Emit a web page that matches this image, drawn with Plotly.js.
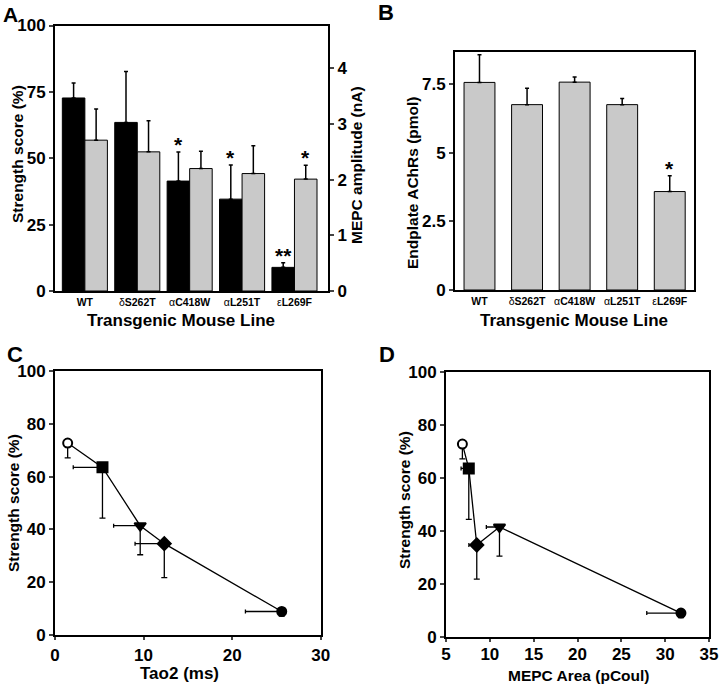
<!DOCTYPE html>
<html>
<head>
<meta charset="utf-8">
<script src="https://cdn.plot.ly/plotly-3.0.1.min.js"></script>
<style>html,body{margin:0;padding:0;background:#fff;}#chart{width:720px;height:686px;}</style>
</head>
<body>
<div id="chart"></div>
<script>
// ---------- data ----------
const lines = ['WT', 'δS262T', 'αC418W', 'αL251T', 'εL269F'];
const lineLabels = ['<b>WT</b>', 'δ<b>S262T</b>', 'α<b>C418W</b>', 'α<b>L251T</b>', 'ε<b>L269F</b>'];
const strength = [72.7, 63.5, 41.4, 34.6, 8.9];          // Strength score (%)
const strengthErr = [5.6, 19.2, 11.0, 12.9, 1.7];
const mepcAmp = [2.71, 2.50, 2.20, 2.11, 2.01];          // MEPC amplitude (nA)
const mepcAmpErr = [0.56, 0.56, 0.31, 0.50, 0.25];
const achr = [7.57, 6.76, 7.58, 6.76, 3.59];             // Endplate AChRs (pmol)
const achrErr = [1.01, 0.60, 0.19, 0.22, 0.58];
const tao2 = [1.43, 5.36, 9.62, 12.34, 25.6];            // Tao2 (ms)
const tao2Err = [0, 3.3, 3.0, 3.3, 4.1];
const mepcArea = [6.87, 7.6, 11.1, 8.51, 31.8];          // MEPC Area (pCoul)
const mepcAreaErr = [0, 0.88, 1.5, 0.9, 3.9];
const starsStrength = ['', '', '*', '*', '**'];
const starsAmp = ['', '', '', '', '*'];
const starsAchr = ['', '', '', '', '*'];

// ---------- style ----------
const W = 720, H = 686;
const FONT = 'Liberation Sans, Arial, Helvetica, sans-serif';
const GRAY = '#c9c9c9';
const symbols = ['circle', 'square', 'triangle-down', 'diamond', 'circle'];
const symSize = [9, 10, 10, 10, 9];
const symFill = ['white', 'black', 'black', 'black', 'black'];

function dx(a, b) { return [a / W, b / W]; }
function dy(top, bottom) { return [1 - bottom / H, 1 - top / H]; }

const zeros = lines.map(() => 0);
const idx = lines.map((_, i) => i);

const traces = [];
// Panel A
traces.push({
  type: 'bar', x: idx, y: strength, xaxis: 'x', yaxis: 'y',
  offset: -0.43, width: 0.43,
  marker: {color: 'black', line: {color: 'black', width: 1}},
  error_y: {type: 'data', symmetric: false, array: strengthErr, arrayminus: zeros, color: 'black', thickness: 1.5, width: 2},
  showlegend: false, hoverinfo: 'y'
});
traces.push({
  type: 'bar', x: idx, y: mepcAmp, xaxis: 'x', yaxis: 'y2',
  offset: 0, width: 0.43,
  marker: {color: GRAY, line: {color: 'black', width: 1}},
  error_y: {type: 'data', symmetric: false, array: mepcAmpErr, arrayminus: zeros, color: 'black', thickness: 1.5, width: 2},
  showlegend: false, hoverinfo: 'y'
});
// Panel B
traces.push({
  type: 'bar', x: idx, y: achr, xaxis: 'x2', yaxis: 'y3',
  width: 0.65,
  marker: {color: GRAY, line: {color: 'black', width: 1}},
  error_y: {type: 'data', symmetric: false, array: achrErr, arrayminus: zeros, color: 'black', thickness: 1.5, width: 2},
  showlegend: false, hoverinfo: 'y'
});
// Panel C
traces.push({
  type: 'scatter', mode: 'lines+markers', x: tao2, y: strength, xaxis: 'x3', yaxis: 'y4',
  line: {color: 'black', width: 1.3},
  marker: {symbol: symbols, size: symSize, color: symFill, opacity: 1, line: {color: 'black', width: 2}},
  error_y: {type: 'data', symmetric: false, array: zeros, arrayminus: strengthErr, color: 'black', thickness: 1.3, width: 3},
  error_x: {type: 'data', symmetric: false, array: zeros, arrayminus: tao2Err, color: 'black', thickness: 1.3, width: 2},
  showlegend: false, text: lines, hoverinfo: 'text+x+y'
});
// Panel D (connected in order of MEPC area)
const ordD = idx.slice().sort((a, b) => mepcArea[a] - mepcArea[b]);
const pick = (arr) => ordD.map(i => arr[i]);
traces.push({
  type: 'scatter', mode: 'lines+markers', x: pick(mepcArea), y: pick(strength), xaxis: 'x4', yaxis: 'y5',
  line: {color: 'black', width: 1.3},
  marker: {symbol: pick(symbols), size: pick(symSize), color: pick(symFill), opacity: 1, line: {color: 'black', width: 2}},
  error_y: {type: 'data', symmetric: false, array: zeros, arrayminus: pick(strengthErr), color: 'black', thickness: 1.3, width: 3},
  error_x: {type: 'data', symmetric: false, array: zeros, arrayminus: pick(mepcAreaErr), color: 'black', thickness: 1.3, width: 2},
  showlegend: false, text: pick(lines), hoverinfo: 'text+x+y'
});

const tickFontBig = {family: FONT, size: 17, color: 'black', weight: 700};
const tickFontCat = {family: FONT, size: 10.5, color: 'black', weight: 400};
const baseAxis = {showgrid: false, zeroline: false, showline: true, linecolor: 'black', linewidth: 2, fixedrange: true};
const yTicks = {ticks: 'outside', ticklen: 4, tickwidth: 2, tickfont: tickFontBig, ticklabelstandoff: 0};
const xTicks = {ticks: 'outside', ticklen: 3, tickwidth: 2, tickfont: tickFontBig, ticklabelstandoff: -2};

const layout = {
  width: W, height: H,
  margin: {l: 0, r: 0, t: 0, b: 0},
  paper_bgcolor: 'white', plot_bgcolor: 'white',
  font: {family: FONT, color: 'black'},
  barmode: 'overlay',
  // A
  xaxis: Object.assign({}, baseAxis, {domain: dx(55, 328), anchor: 'y', range: [-0.57, 4.64],
    tickmode: 'array', tickvals: idx, ticktext: lineLabels, ticks: '', tickfont: tickFontCat, mirror: true}),
  yaxis: Object.assign({}, baseAxis, yTicks, {domain: dy(25.5, 291), anchor: 'x', range: [0, 100],
    tickvals: [0, 25, 50, 75, 100]}),
  yaxis2: Object.assign({}, baseAxis, yTicks, {overlaying: 'y', side: 'right', anchor: 'x', range: [0, 4.77],
    tickvals: [0, 1, 2, 3, 4]}),
  // B
  xaxis2: Object.assign({}, baseAxis, {domain: dx(455, 694), anchor: 'y3', range: [-0.515, 4.51],
    tickmode: 'array', tickvals: idx, ticktext: lineLabels, ticks: '', tickfont: tickFontCat, mirror: true}),
  yaxis3: Object.assign({}, baseAxis, yTicks, {domain: dy(51.7, 290), anchor: 'x2', range: [0, 8.69],
    tickvals: [0, 2.5, 5, 7.5], ticktext: ['0', '2.5', '5', '7.5'], mirror: true}),
  // C
  xaxis3: Object.assign({}, baseAxis, xTicks, {domain: dx(55, 320.7), anchor: 'y4', range: [0, 30],
    tickvals: [0, 10, 20, 30], mirror: true, ticklabelstandoff: 1}),
  yaxis4: Object.assign({}, baseAxis, yTicks, {domain: dy(371, 635), anchor: 'x3', range: [0, 100],
    tickvals: [0, 20, 40, 60, 80, 100], mirror: true}),
  // D
  xaxis4: Object.assign({}, baseAxis, xTicks, {domain: dx(446, 709), anchor: 'y5', range: [5, 35],
    tickvals: [5, 10, 15, 20, 25, 30, 35], mirror: true}),
  yaxis5: Object.assign({}, baseAxis, yTicks, {domain: dy(371.7, 636.7), anchor: 'x4', range: [0, 100],
    tickvals: [0, 20, 40, 60, 80, 100], mirror: true}),
  annotations: []
};

const ann = layout.annotations;
function paperText(text, px, py, size, angle, xa, ya) {
  ann.push({text: text, x: px / W, y: 1 - py / H, xref: 'paper', yref: 'paper', showarrow: false,
    xanchor: xa || 'center', yanchor: ya || 'middle', textangle: angle || 0,
    font: {family: FONT, size: size, color: 'black', weight: 700}});
}
// panel letters
paperText('A', 1, 1, 21, 0, 'left', 'top');
paperText('B', 386, 13, 22);
paperText('C', 15, 354, 22);
paperText('D', 387, 354, 22);
// axis titles
paperText('Strength score (%)', 17, 154, 15.5, -90);
paperText('MEPC amplitude (nA)', 356, 165, 15.5, -90);
paperText('Transgenic Mouse Line', 181, 320, 17);
paperText('Endplate AChRs (pmol)', 412, 183, 15.5, -90);
paperText('Transgenic Mouse Line', 574, 320, 17);
paperText('Strength score (%)', 13, 503, 15.5, -90);
paperText('Tao2 (ms)', 179, 673, 17);
paperText('Strength score (%)', 405, 500, 15.5, -90);
paperText('MEPC Area (pCoul)', 579, 675, 15.5);

// significance stars
function star(text, x, y, xref, yref) {
  if (!text) return;
  ann.push({text: text, x: x, y: y, xref: xref, yref: yref, showarrow: false,
    xanchor: 'center', yanchor: 'bottom', yshift: -6,
    font: {family: FONT, size: 21, color: 'black', weight: 700}});
}
idx.forEach(i => {
  star(starsStrength[i], i - 0.215, strength[i] + strengthErr[i], 'x', 'y');
  star(starsAmp[i], i + 0.215, mepcAmp[i] + mepcAmpErr[i], 'x', 'y2');
  star(starsAchr[i], i, achr[i] + achrErr[i], 'x2', 'y3');
});

Plotly.newPlot('chart', traces, layout, {displayModeBar: false, staticPlot: true});
</script>
</body>
</html>
